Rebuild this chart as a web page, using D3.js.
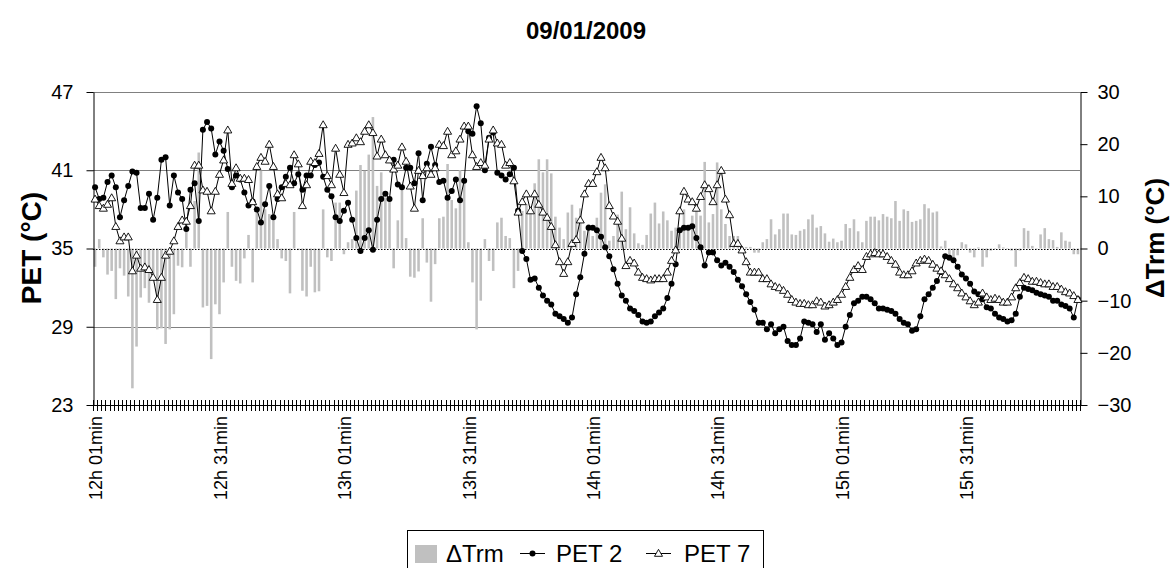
<!DOCTYPE html>
<html><head><meta charset="utf-8">
<script src="https://cdn.jsdelivr.net/npm/d3@7"></script>
<style>body{margin:0;background:#fff;} text{font-family:"Liberation Sans",Arial,sans-serif;fill:#000;}</style>
</head><body><svg id="c" width="1171" height="568"></svg>
<script>
const pet2 = [39.7,38.8,38.9,40.1,40.6,39.7,37.4,38.7,39.8,40.9, 40.8,38.1,38.1,39.2,37.2,38.9,41.8,42.0,38.3,40.6,
 39.3,38.8,36.5,39.5,40.0,37.1,44.1,44.7,44.2,42.2, 43.2,42.5,41.1,39.7,40.6,40.3,39.3,38.3,38.6,38.0,
 37.0,38.4,39.8,37.4,38.8,39.7,40.5,41.2,40.0,40.7, 39.5,40.6,40.6,41.4,41.6,40.5,39.5,39.0,37.4,37.1,
 37.9,38.5,37.2,35.8,34.8,35.8,36.4,34.9,37.2,38.8, 39.2,38.8,41.8,39.9,39.7,41.2,41.2,40.0,42.3,38.7,
 41.5,42.8,41.4,40.1,40.2,38.9,39.4,40.3,38.7,40.2, 44.0,43.8,45.9,44.6,41.0,43.5,43.9,40.8,40.6,40.3,
 40.7,41.2,37.9,34.8,34.2,32.6,32.7,32.0,31.4,31.0, 30.7,30.0,29.8,29.6,29.3,29.7,31.5,32.8,34.6,36.6,
 36.6,36.4,35.9,35.1,34.4,33.4,32.3,31.4,31.0,30.4, 30.2,29.9,29.4,29.3,29.4,29.8,30.1,30.4,31.2,32.3,
 33.8,36.4,36.6,36.6,36.7,35.8,35.1,33.7,34.7,34.7, 34.1,33.7,33.9,33.6,33.2,32.6,32.1,31.5,30.9,30.3,
 29.3,29.3,28.8,29.2,28.5,28.8,29.0,27.9,27.6,27.6, 28.1,29.4,29.3,29.2,28.6,29.2,28.0,28.5,28.1,27.6,
 27.8,29.0,29.9,30.8,31.0,31.3,31.3,31.1,30.8,30.4, 30.4,30.3,30.2,30.0,29.6,29.3,29.2,28.7,28.8,29.8,
 31.1,31.5,32.0,32.5,33.2,34.4,34.3,34.1,33.6,33.0, 32.7,32.3,31.7,31.5,31.1,30.5,30.4,30.0,29.7,29.6,
 29.4,29.5,30.0,31.3,32.0,31.9,31.8,31.6,31.5,31.4, 31.3,31.0,31.0,30.7,30.6,30.4,29.7,31.1];
const pet7 = [38.8,38.3,38.1,38.4,38.9,36.7,35.6,35.9,35.9,33.3, 34.5,33.5,33.6,33.4,32.8,31.1,32.8,34.5,34.8,35.6,
 36.7,37.2,37.1,38.3,41.4,41.4,39.5,39.4,37.9,39.4, 40.7,41.8,44.1,40.0,41.2,40.4,40.4,40.3,38.6,41.3,
 42.0,41.7,43.0,41.3,39.2,38.9,40.0,39.9,42.2,41.5, 38.3,39.9,41.7,41.6,42.3,44.5,40.6,39.9,42.7,40.7,
 39.3,43.0,43.1,43.5,43.2,44.0,44.5,43.9,42.1,43.4, 42.2,41.8,41.1,41.4,42.8,41.7,39.8,38.1,41.0,40.6,
 41.2,40.7,41.2,43.0,42.9,44.0,42.2,42.5,43.4,44.4, 44.4,42.2,41.3,41.6,41.4,43.4,44.1,43.1,43.0,41.4,
 41.6,40.2,37.8,38.6,39.2,37.9,39.2,38.4,37.8,37.4, 36.7,35.3,34.0,33.1,34.0,35.4,35.7,37.2,39.2,40.0,
 40.0,40.9,42.0,41.2,38.3,37.5,37.1,35.8,33.7,34.1, 33.9,33.2,32.8,32.7,32.6,32.7,32.7,32.7,33.2,34.1,
 34.9,37.9,39.4,38.8,38.6,38.1,39.0,39.9,39.6,38.6, 39.9,41.0,38.8,37.6,35.4,35.4,34.9,34.0,33.2,33.2,
 33.2,32.7,32.7,32.3,32.1,32.0,31.8,31.5,31.1,30.9, 30.8,30.8,30.7,30.7,31.0,30.9,30.6,30.7,30.9,31.1,
 31.5,32.1,32.8,33.4,33.7,33.4,34.4,34.6,34.7,34.6, 34.6,34.4,34.1,33.8,33.2,33.0,33.0,33.3,33.9,34.1,
 34.2,34.1,33.8,33.5,33.3,33.0,32.7,32.3,32.0,31.6, 31.3,31.0,30.7,30.9,31.6,31.3,31.1,31.2,31.1,30.9,
 30.9,31.3,32.0,32.4,32.8,32.7,32.5,32.5,32.4,32.3, 32.3,32.1,32.1,31.9,31.7,31.6,31.4,31.1];
const dTrm = [-3.5,1.8,-1.7,-5.0,-4.3,-9.7,-3.8,-5.2,-9.2,-26.8, -18.8,-9.4,-7.6,-10.4,-5.6,-15.5,-15.3,-18.3,-15.5,-12.6,
 -3.3,-3.6,4.0,-3.5,9.1,18.4,-11.3,-11.0,-21.2,-10.7, -12.6,-6.5,7.0,-3.5,-6.2,-6.7,-1.9,2.6,-6.5,7.5,
 14.9,7.5,6.6,5.9,1.8,-1.9,-2.4,-8.6,7.0,-0.3, -8.1,-9.2,-3.5,-8.4,-8.2,7.5,-1.7,-2.4,8.8,8.8,
 -1.1,1.2,1.8,11.1,16.0,14.9,18.0,25.2,12.0,14.6, 9.8,9.5,-3.8,5.4,11.2,2.0,-5.4,-5.6,-4.4,5.8,
 -2.7,-10.2,-3.0,5.8,6.1,16.2,9.3,7.7,15.0,12.7, 1.2,-6.5,-15.5,-10.0,1.8,-2.4,-4.3,5.0,5.9,2.4,
 2.0,-7.6,-4.3,7.2,8.5,7.5,12.5,17.1,14.6,17.1, 14.4,6.1,4.0,1.8,6.9,8.4,5.9,7.7,3.4,4.7,
 2.4,5.9,10.7,12.3,1.5,2.4,6.5,10.9,3.7,7.9, 2.9,1.0,0.7,2.6,6.7,8.8,4.8,7.1,5.4,3.4,
 4.0,3.9,7.5,4.0,6.3,7.7,6.3,16.6,5.0,6.6, 16.5,7.5,4.7,2.4,2.4,2.4,0.2,0.3,0.3,-0.8,
 -0.8,1.2,1.8,5.6,2.7,3.7,6.7,6.7,2.7,2.6, 3.4,3.7,5.6,6.5,4.0,4.3,2.9,1.3,1.9,1.2,
 1.5,4.7,3.9,5.6,3.3,1.2,5.3,6.1,6.1,5.4, 6.6,6.1,5.8,9.1,5.3,7.5,7.2,5.1,5.3,5.6,
 8.5,7.7,6.9,7.1,0.4,1.5,-1.7,-2.0,-1.3,1.2, 0.8,-0.8,-1.7,0.2,-3.5,-1.7,-0.4,-0.1,0.8,0.2,
 -0.1,-0.4,-3.5,-0.4,3.9,3.4,0.5,-0.1,2.7,3.9, 1.8,1.6,0.3,3.1,1.5,1.3,-1.1,-1.1];
const petTicks = [23,29,35,41,47];
const dTicks = [-30,-20,-10,0,10,20,30];
const xTickLabels = ["12h 01min","12h 31min","13h 01min","13h 31min","14h 01min","14h 31min","15h 01min","15h 31min"];
const categories = pet2.map((_, i) => { const m = 1 + i; return `${12 + Math.floor(m/60)}h ${String(m%60).padStart(2,"0")}min`; });

const svg = d3.select("#c");
const L = 93, R = 1080, T = 92, B = 405;
const x = d3.scaleBand().domain(categories).range([L, R]).padding(0);
const yL = d3.scaleLinear().domain([23,47]).range([B, T]);
const yR = d3.scaleLinear().domain([-30,30]).range([B, T]);
const cx = c => x(c) + x.bandwidth()/2;

// title
svg.append("text").attr("x", 586).attr("y", 39).attr("text-anchor","middle")
  .style("font-size","24px").style("font-weight","bold").text("09/01/2009");

// gridlines
svg.append("g").selectAll("line").data([29,41,47]).join("line")
  .attr("x1", L).attr("x2", R).attr("y1", d => Math.round(yL(d))+0.5).attr("y2", d => Math.round(yL(d))+0.5)
  .attr("stroke", "#808080").attr("stroke-width", 1.2);

// bars
const bw = x.bandwidth()*0.62;
svg.append("g").selectAll("rect").data(dTrm).join("rect")
  .attr("x", (d,i) => cx(categories[i]) - bw/2).attr("width", bw)
  .attr("y", d => yR(Math.max(0,d))).attr("height", d => Math.abs(yR(d) - yR(0)))
  .attr("fill", "#c0c0c0");

// zero line dotted
svg.append("line").attr("x1", L).attr("x2", R).attr("y1", Math.round(yR(0))+0.5).attr("y2", Math.round(yR(0))+0.5)
  .attr("stroke","#000").attr("stroke-width",1).attr("stroke-dasharray","1.5,1.5");

// left axis
const gl = svg.append("g").attr("transform", `translate(${L+0.5},0)`)
  .call(d3.axisLeft(yL).tickValues(petTicks).tickSize(7).tickPadding(13).tickSizeOuter(0));
gl.selectAll("text").style("font-size","20px").style("font-family","'Liberation Sans',Arial,sans-serif");

// right axis
const gr = svg.append("g").attr("transform", `translate(${R+0.5},0)`)
  .call(d3.axisRight(yR).tickValues(dTicks).tickSize(7).tickPadding(10).tickSizeOuter(0));
gr.selectAll("text").style("font-size","20px").style("font-family","'Liberation Sans',Arial,sans-serif");

// x axis
const gx = svg.append("g");
gx.append("line").attr("x1", L).attr("x2", R).attr("y1", B+0.5).attr("y2", B+0.5).attr("stroke","#000");
gx.selectAll("line.t").data(categories.concat([null])).join("line").attr("class","t")
  .attr("x1", (d,i) => Math.round(L + i*x.step())+0.5).attr("x2", (d,i) => Math.round(L + i*x.step())+0.5)
  .attr("y1", B-5).attr("y2", B+6).attr("stroke","#000");
gx.selectAll("text").data(xTickLabels).join("text")
  .attr("transform", d => `translate(${cx(d)+1},${B+11}) rotate(-90)`)
  .attr("text-anchor","end").attr("dy","0.35em").style("font-size","18px").text(d => d);

// lines
const line = d3.line().x((d,i) => cx(categories[i])).y(d => yL(d));
svg.append("path").datum(pet2).attr("d", line).attr("fill","none").attr("stroke","#000").attr("stroke-width",1);
svg.append("g").selectAll("circle").data(pet2).join("circle")
  .attr("cx", (d,i) => cx(categories[i])).attr("cy", d => yL(d)).attr("r", 3).attr("fill","#000");
svg.append("path").datum(pet7).attr("d", line).attr("fill","none").attr("stroke","#000").attr("stroke-width",1);
const tri = d3.symbol(d3.symbolTriangle, 28);
svg.append("g").selectAll("path").data(pet7).join("path")
  .attr("d", tri).attr("transform", (d,i) => `translate(${cx(categories[i])},${yL(d)+0.8})`)
  .attr("fill","#fff").attr("stroke","#000").attr("stroke-width",0.9);

// axis titles
svg.append("text").attr("transform","translate(41,248) rotate(-90)").attr("text-anchor","middle")
  .style("font-size","28px").style("font-weight","bold").text("PET (°C)");
svg.append("text").attr("transform","translate(1164,238) rotate(-90)").attr("text-anchor","middle")
  .style("font-size","26px").style("font-weight","bold").text("ΔTrm (°C)");

// legend
const lg = svg.append("g");
lg.append("rect").attr("x", 407.5).attr("y", 530.5).attr("width", 356).attr("height", 45).attr("fill","#fff").attr("stroke","#000");
lg.append("rect").attr("x", 415).attr("y", 545).attr("width", 22).attr("height", 18).attr("fill","#c0c0c0");
lg.append("text").attr("x", 446).attr("y", 562).style("font-size","24px").text("ΔTrm");
lg.append("line").attr("x1", 520).attr("x2", 545).attr("y1", 553.5).attr("y2", 553.5).attr("stroke","#000");
lg.append("circle").attr("cx", 532.5).attr("cy", 553.5).attr("r", 3).attr("fill","#000");
lg.append("text").attr("x", 556).attr("y", 562).style("font-size","24px").text("PET 2");
lg.append("line").attr("x1", 646).attr("x2", 671).attr("y1", 553.5).attr("y2", 553.5).attr("stroke","#000");
lg.append("path").attr("d", tri).attr("transform","translate(658.5,554)").attr("fill","#fff").attr("stroke","#000").attr("stroke-width",0.9);
lg.append("text").attr("x", 684).attr("y", 562).style("font-size","24px").text("PET 7");
</script></body></html>
